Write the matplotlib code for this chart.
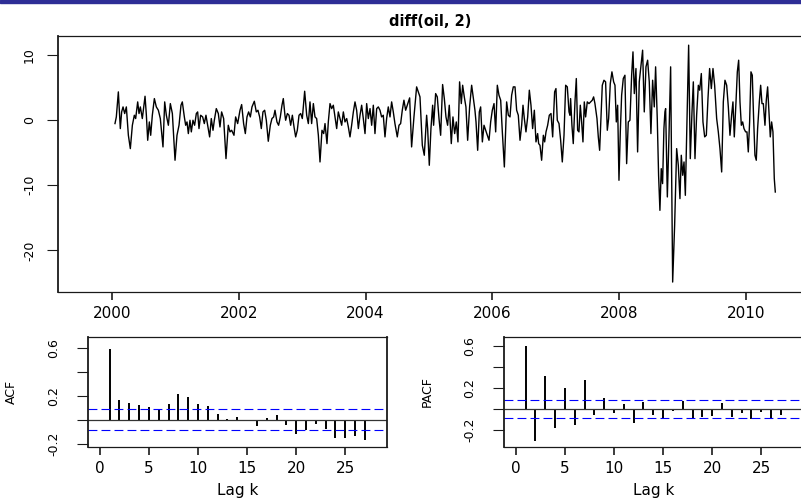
import numpy as np
import matplotlib
matplotlib.use("Agg")
import matplotlib.pyplot as plt
from matplotlib.patches import Rectangle

plt.rcParams["font.family"] = ["DejaVu Sans"]

# diff(oil, 2): decimal year and value at each turning point of the weekly series
years = [
    2000.047, 2000.068, 2000.100, 2000.131, 2000.152, 2000.174, 2000.200, 2000.226, 2000.258, 2000.289,
    2000.321, 2000.352, 2000.373, 2000.405, 2000.426, 2000.447, 2000.478, 2000.521, 2000.542, 2000.563,
    2000.589, 2000.610, 2000.636, 2000.668, 2000.699, 2000.731, 2000.762, 2000.804, 2000.831, 2000.857,
    2000.889, 2000.920, 2000.952, 2000.994, 2001.025, 2001.057, 2001.088, 2001.109, 2001.141, 2001.162,
    2001.183, 2001.204, 2001.230,
    2001.251, 2001.277, 2001.303, 2001.330, 2001.351, 2001.372, 2001.398, 2001.430, 2001.456, 2001.482,
    2001.509, 2001.540, 2001.566, 2001.593, 2001.614, 2001.645, 2001.677, 2001.703, 2001.729, 2001.761,
    2001.798, 2001.834, 2001.861, 2001.887, 2001.924, 2001.950, 2001.982, 2002.019, 2002.045, 2002.076,
    2002.103, 2002.129, 2002.155, 2002.182, 2002.208, 2002.245, 2002.276, 2002.302, 2002.329, 2002.355,
    2002.381, 2002.408, 2002.434, 2002.465, 2002.497, 2002.523, 2002.550, 2002.571, 2002.602, 2002.628,
    2002.655, 2002.681, 2002.702, 2002.728,
    2002.739, 2002.766, 2002.792, 2002.818, 2002.845, 2002.871, 2002.897, 2002.923, 2002.950, 2002.976,
    2003.002, 2003.039, 2003.071, 2003.097, 2003.123, 2003.149, 2003.176, 2003.202, 2003.228, 2003.255,
    2003.281, 2003.312, 2003.339, 2003.360, 2003.391, 2003.412, 2003.439, 2003.465, 2003.491, 2003.518,
    2003.544, 2003.570, 2003.596, 2003.623, 2003.649, 2003.675, 2003.702, 2003.728, 2003.754, 2003.780,
    2003.807, 2003.833, 2003.859, 2003.886, 2003.912, 2003.938, 2003.964, 2003.991, 2004.017, 2004.043,
    2004.070, 2004.096, 2004.122, 2004.148, 2004.175, 2004.201, 2004.227,
    2004.253, 2004.279, 2004.306, 2004.332, 2004.358, 2004.385, 2004.411, 2004.437, 2004.463, 2004.500,
    2004.527, 2004.553, 2004.579, 2004.605, 2004.632, 2004.658, 2004.695, 2004.726, 2004.763, 2004.805,
    2004.831, 2004.858, 2004.895, 2004.926, 2004.963, 2004.979, 2005.005, 2005.031, 2005.058, 2005.073,
    2005.105, 2005.131, 2005.158, 2005.184, 2005.215, 2005.242, 2005.268, 2005.294, 2005.320, 2005.352,
    2005.378, 2005.405, 2005.431, 2005.457, 2005.483, 2005.510, 2005.531, 2005.557, 2005.583, 2005.610,
    2005.641, 2005.673, 2005.694, 2005.725,
    2005.742, 2005.768, 2005.794, 2005.815, 2005.842, 2005.868, 2005.894, 2005.920, 2005.947, 2005.973,
    2005.999, 2006.026, 2006.052, 2006.078, 2006.104, 2006.131, 2006.157, 2006.189, 2006.225, 2006.252,
    2006.278, 2006.304, 2006.330, 2006.357, 2006.383, 2006.409, 2006.436, 2006.462, 2006.483, 2006.504,
    2006.530, 2006.557, 2006.583, 2006.609, 2006.635, 2006.662, 2006.688, 2006.714, 2006.730, 2006.751,
    2006.777, 2006.804, 2006.825, 2006.846, 2006.872, 2006.898, 2006.925, 2006.951, 2006.982, 2007.003,
    2007.024, 2007.051, 2007.077, 2007.103, 2007.130, 2007.156, 2007.182, 2007.209, 2007.224,
    2007.234, 2007.255, 2007.276, 2007.303, 2007.324, 2007.345, 2007.366, 2007.387, 2007.408, 2007.429,
    2007.450, 2007.471, 2007.497, 2007.524, 2007.550, 2007.576, 2007.597, 2007.618, 2007.650, 2007.671,
    2007.692, 2007.734, 2007.760, 2007.786, 2007.813, 2007.834, 2007.860, 2007.886, 2007.913, 2007.934,
    2007.955, 2007.976, 2007.997, 2008.018, 2008.039, 2008.065, 2008.091, 2008.118, 2008.144, 2008.170,
    2008.197, 2008.218, 2008.239, 2008.265, 2008.291, 2008.317, 2008.344, 2008.370, 2008.396, 2008.423,
    2008.449, 2008.475, 2008.501, 2008.528, 2008.554, 2008.575, 2008.601, 2008.622, 2008.643, 2008.664,
    2008.685, 2008.706, 2008.722,
    2008.733, 2008.760, 2008.786, 2008.812, 2008.844, 2008.875, 2008.907, 2008.933, 2008.959, 2008.980,
    2009.002, 2009.023, 2009.044, 2009.065, 2009.096, 2009.122, 2009.149, 2009.170, 2009.196, 2009.222,
    2009.249, 2009.270, 2009.296, 2009.322, 2009.349, 2009.375, 2009.401, 2009.427, 2009.454, 2009.480,
    2009.506, 2009.538, 2009.564, 2009.590, 2009.617, 2009.643, 2009.669, 2009.696, 2009.722, 2009.748,
    2009.774, 2009.795, 2009.816, 2009.843, 2009.864, 2009.885, 2009.906, 2009.927, 2009.948, 2009.969,
    2009.995, 2010.016, 2010.037, 2010.058, 2010.079, 2010.100, 2010.121, 2010.142, 2010.163, 2010.184,
    2010.211, 2010.232, 2010.253, 2010.274, 2010.300, 2010.321, 2010.342, 2010.363, 2010.384, 2010.405,
    2010.426, 2010.447, 2010.463,
]
values = [
    -0.51, 0.51, 4.36, -1.28, 1.28, 2.05, 1.03, 2.05, -2.31, -4.36,
    -0.77, 0.77, 0.26, 2.82, 1.03, 2.05, 0.26, 3.69, 0.77, -3.08,
    -0.26, -2.31, 0.77, 3.33, 2.05, 1.54, 0.26, -4.10, 2.82, 0.77,
    -0.77, 2.56, 1.03, -6.15, -2.31, -0.77, 2.31, 2.82, 0.51, -0.77,
    -0.26, -2.05, 0.00,
    -1.79, 0.00, -0.77, 1.03, 1.28, -1.28, 0.77, 0.51, -0.51, 0.77,
    -0.77, -2.56, 0.26, -1.54, 0.00, 1.79, 1.03, -1.03, 1.28, 0.26,
    -5.90, -0.77, -1.79, -1.54, -2.31, 0.51, -0.51, 1.54, 2.41, -0.51,
    -2.05, 0.51, 1.28, 0.51, 2.05, 2.92, 1.28, 1.54, 0.51, -1.28,
    1.28, 1.54, 0.00, -3.23, -0.77, 0.26, 0.51, 1.54, -0.26, -0.77,
    0.51, 2.31, 3.33, 0.77,
    0.00, 1.03, 0.77, -0.77, 0.77, -1.03, -2.56, -1.54, 0.77, 1.03,
    0.26, 4.46, 0.77, -0.51, 2.82, -0.51, 2.56, 0.51, 0.26, -2.31,
    -6.41, -1.54, -2.05, -0.51, -3.59, -0.26, 2.56, 1.79, 2.31, 0.51,
    -1.28, 1.28, 0.26, -0.77, 1.28, -0.26, 0.26, -1.03, -2.56, -0.77,
    1.28, 2.82, 1.54, -1.28, 0.77, 2.31, 0.26, -2.05, 2.56, 0.26,
    1.79, -0.77, 2.31, -2.05, 1.79, 2.05, 1.54,
    0.51, 0.77, -2.56, 0.26, 2.05, 0.51, 2.82, 1.28, -0.51, -2.56,
    -0.77, -0.51, 1.54, 3.08, 1.54, 2.31, 3.44, -4.10, 0.51, 5.13,
    4.36, 3.59, -3.85, -5.38, 0.77, -1.28, -6.92, -1.28, 2.31, -0.77,
    4.10, 3.59, 0.26, -2.31, 5.49, 3.33, 0.51, -0.77, 2.31, -3.59,
    0.51, -2.05, -0.26, -3.33, 5.90, 2.56, 5.38, 3.59, 2.05, -3.08,
    2.05, 5.38, 3.85, 1.54,
    -0.26, -4.62, 1.28, 2.05, -3.33, -0.77, -1.54, -2.31, -3.08, -0.26,
    1.54, 2.56, -1.79, 5.38, 3.85, 3.08, -1.79, -7.18, 2.82, 0.77,
    0.51, 3.85, 5.13, 5.13, 1.54, 0.77, -3.08, -0.77, 2.31, 0.26,
    -1.79, 0.51, 4.62, 2.31, -1.28, 1.54, -3.33, -2.05, -3.59, -3.85,
    -6.15, -2.31, -3.33, -1.79, -0.77, 0.77, 1.03, -2.56, 4.36, 4.87,
    0.00, -0.51, -3.08, -6.41, -2.31, 5.38, 5.13, 1.28, 0.77,
    3.33, -0.77, -3.59, 2.82, 6.41, -1.54, -1.79, 2.31, -0.26, -3.33,
    2.82, 0.51, 2.82, 2.56, 2.82, 3.08, 3.59, 2.56, 0.26, -2.56,
    -4.62, 5.38, 6.15, 5.90, -1.54, 0.26, 5.64, 7.44, 5.90, 5.38,
    -0.26, 2.31, -9.23, -1.79, 3.85, 6.41, 6.92, -6.67, -0.26, 0.00,
    6.92, 10.51, 4.10, 7.95, -4.87, 5.90, 8.46, 10.77, 1.28, 8.21,
    9.23, 5.90, -2.05, 6.15, 2.05, 8.21, 0.26, -8.46, -13.85, -7.44,
    -9.74, -1.28, 1.28,
    1.79, -11.79, -2.31, 8.21, -24.87, -16.15, -4.36, -6.92, -12.05, -5.38,
    -8.46, -6.41, -11.54, -2.31, 11.54, -5.90, 1.28, 5.90, -5.90, 0.77,
    5.38, 4.62, 7.18, -0.26, -2.56, -2.31, 3.33, 7.95, 4.87, 7.95,
    5.38, 0.26, -1.79, -4.36, -7.95, 2.82, 6.15, 5.38, 2.05, -2.31,
    0.77, 2.82, -2.56, 2.82, 7.44, 9.23, 2.82, -0.77, -0.26, -1.28,
    -1.79, -1.79, -4.87, -0.26, 7.44, 6.92, 0.26, -5.38, -6.15, -1.28,
    2.82, 5.38, 2.56, 2.56, -0.77, 3.08, 5.13, 1.28, -2.56, -0.26,
    -1.79, -8.97, -11.03,
]

# sample autocorrelations, lags 1..27
lags = np.arange(1, 28)
acf_vals = [0.59, 0.164, 0.137, 0.123, 0.104, 0.088, 0.129, 0.216, 0.189, 0.131,
            0.115, 0.049, 0.008, 0.022, -0.014, -0.055, 0.011, 0.038, -0.047, -0.118,
            -0.085, -0.036, -0.082, -0.153, -0.156, -0.137, -0.173]
pacf_vals = [0.603, -0.303, 0.316, -0.181, 0.200, -0.148, 0.281, -0.055, 0.103, -0.032,
             0.048, -0.129, 0.071, -0.052, -0.087, -0.019, 0.074, -0.090, -0.074, -0.061,
             0.058, -0.074, -0.032, -0.097, -0.029, -0.081, -0.058]
conf_band = 0.086

year_ticks = [2000, 2002, 2004, 2006, 2008, 2010]
lag_ticks = [0, 5, 10, 15, 20, 25]
corr_ticks = [-0.2, 0.0, 0.2, 0.4, 0.6]
corr_labels = ["-0.2", "", "0.2", "", "0.6"]

W, H = 801, 499
fig = plt.figure(figsize=(W / 100, H / 100), dpi=100)


def px_axes(left, top, right, bottom):
    return fig.add_axes([left / W, 1 - bottom / H, (right - left) / W, (bottom - top) / H])


def r_style(ax, ypad):
    for side, s in ax.spines.items():
        s.set_linewidth(1.3 if side in ("left", "right") else 0.9)
        s.set_color("#1a1a1a")
    ax.tick_params(axis="x", direction="out", length=5.4, width=1.2, labelsize=11,
                   pad=5, color="#1a1a1a")
    ax.tick_params(axis="y", direction="out", length=7.8, width=0.8, labelsize=9,
                   pad=ypad, color="#1a1a1a")


def corr_panel(ax, vals, ylim, name):
    ax.vlines(lags, 0, vals, color="black", lw=1.4)
    ax.axhline(0, color="#333333", lw=0.9)
    for b in (conf_band, -conf_band):
        ax.axhline(b, color="blue", lw=0.8, dashes=(8, 3.7))
    ax.set_xlim(-1.2, 29.25)
    ax.set_ylim(*ylim)
    ax.set_xticks(lag_ticks)
    ax.set_yticks(corr_ticks)
    ax.set_yticklabels(corr_labels, rotation=90, va="center")
    r_style(ax, 12)
    ax.set_ylabel(name, fontsize=9)
    ax.yaxis.set_label_coords(-0.235, 0.5)
    ax.set_xlabel("Lag k", fontsize=11)
    ax.xaxis.set_label_coords(0.5, -0.33)


# header strip
fig.patches.append(Rectangle((0, 1 - 2.5 / H), 1, 2.5 / H, transform=fig.transFigure,
                             color="#2e2e96", zorder=5))

# time series panel
ax = px_axes(58, 36, 803, 292)
ax.plot(years, values, color="black", lw=1.0)
ax.set_xlim(1999.148, 2010.9)
ax.set_ylim(-26.4, 12.95)
ax.set_xticks(year_ticks)
ax.set_yticks([-20, -10, 0, 10])
ax.set_yticklabels(["-20", "-10", "0", "10"], rotation=90, va="center")
r_style(ax, 8)
ax.set_title("diff(oil, 2)", fontsize=10.5, fontweight="bold", pad=7)

# ACF and PACF panels
ax1 = px_axes(88, 337, 387, 447)
corr_panel(ax1, acf_vals, (-0.228, 0.689), "ACF")

ax2 = px_axes(504, 337, 803, 447)
corr_panel(ax2, pacf_vals, (-0.36, 0.686), "PACF")

fig.savefig("out.png", dpi=100)
